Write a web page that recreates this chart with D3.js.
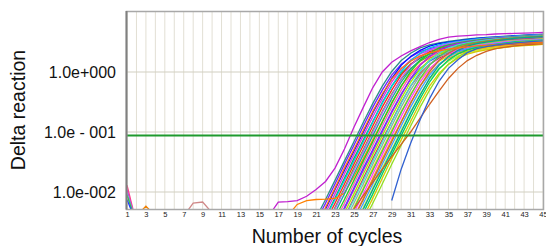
<!DOCTYPE html>
<html>
<head>
<meta charset="utf-8">
<script src="https://cdn.jsdelivr.net/npm/d3@7"></script>
<style>
body { margin: 0; background: #fff; }
text { font-family: "Liberation Sans", Arial, sans-serif; }
</style>
</head>
<body>
<svg id="chart" width="546" height="246"></svg>
<script>
// tick labels
let xTickLabels = [1, 3, 5, 7, 9, 11, 13, 15, 17, 19, 21, 23, 25, 27, 29, 31, 33, 35, 37, 39, 41, 43, 45];
let yTickValues = [1, 0.1, 0.01];
let yTickLabels = ["1.0e+000", "1.0e - 001", "1.0e-002"];
let threshold = 0.0875;

// first cycle of each well's trace
let wellStart = [20, 20, 21, 21, 21, 21, 21, 21, 22, 18, 22, 22, 22, 22, 23, 23, 23, 23, 23, 23,
    24, 24, 24, 24, 24, 24, 25, 25, 25, 25, 20, 24, 29, 16];

// delta reaction per cycle, from wellStart on
let wellValues = [
    [0.0018, 0.0037, 0.0075, 0.0156, 0.033, 0.069, 0.145, 0.30, 0.58, 1.02, 1.55, 2.05, 2.52, 2.82, 3.06, 3.24, 3.39, 3.55, 3.68, 3.76, 3.85, 3.94, 4.04, 4.13, 4.2, 4.24],
    [0.0016, 0.0032, 0.0065, 0.0136, 0.029, 0.060, 0.126, 0.26, 0.50, 0.89, 1.35, 1.78, 2.19, 2.45, 2.66, 2.82, 2.95, 3.09, 3.2, 3.27, 3.35, 3.43, 3.51, 3.59, 3.65, 3.69],
    [0.0025, 0.0052, 0.011, 0.023, 0.048, 0.10, 0.21, 0.41, 0.78, 1.29, 1.82, 2.3, 2.69, 2.96, 3.16, 3.31, 3.47, 3.63, 3.73, 3.81, 3.9, 3.99, 4.08, 4.17, 4.22],
    [0.0022, 0.0045, 0.0093, 0.020, 0.042, 0.087, 0.18, 0.36, 0.68, 1.12, 1.58, 2.0, 2.34, 2.57, 2.75, 2.88, 3.02, 3.16, 3.24, 3.31, 3.39, 3.47, 3.55, 3.63, 3.67],
    [0.0019, 0.0038, 0.0079, 0.017, 0.036, 0.074, 0.15, 0.31, 0.58, 0.95, 1.34, 1.7, 1.99, 2.18, 2.34, 2.45, 2.57, 2.69, 2.75, 2.81, 2.88, 2.95, 3.02, 3.09, 3.12],
    [0.0018, 0.0037, 0.0075, 0.0156, 0.033, 0.069, 0.145, 0.30, 0.58, 1.02, 1.55, 2.05, 2.52, 2.82, 3.06, 3.24, 3.39, 3.55, 3.68, 3.76, 3.85, 3.94, 4.04, 4.13, 4.2],
    [0.0016, 0.0032, 0.0065, 0.0136, 0.029, 0.060, 0.126, 0.26, 0.50, 0.89, 1.35, 1.78, 2.19, 2.45, 2.66, 2.82, 2.95, 3.09, 3.2, 3.27, 3.35, 3.43, 3.51, 3.59, 3.65],
    [0.0014, 0.0027, 0.0055, 0.0116, 0.025, 0.051, 0.107, 0.22, 0.43, 0.76, 1.15, 1.51, 1.86, 2.08, 2.26, 2.4, 2.51, 2.63, 2.72, 2.78, 2.85, 2.92, 2.98, 3.05, 3.1],
    [0.0025, 0.0052, 0.011, 0.023, 0.048, 0.10, 0.21, 0.41, 0.78, 1.29, 1.82, 2.3, 2.69, 2.96, 3.16, 3.31, 3.47, 3.63, 3.73, 3.81, 3.9, 3.99, 4.08, 4.17],
    [0.004, 0.0062, 0.0072, 0.0075, 0.0076, 0.0078, 0.0095, 0.018, 0.036, 0.074, 0.15, 0.31, 0.58, 0.95, 1.34, 1.7, 1.99, 2.18, 2.34, 2.45, 2.57, 2.69, 2.75, 2.81, 2.88, 2.95, 3.02, 3.09],
    [0.0022, 0.0045, 0.0093, 0.020, 0.042, 0.087, 0.18, 0.36, 0.68, 1.12, 1.58, 2.0, 2.34, 2.57, 2.75, 2.88, 3.02, 3.16, 3.24, 3.31, 3.39, 3.47, 3.55, 3.63],
    [0.0016, 0.0032, 0.0065, 0.0136, 0.029, 0.060, 0.126, 0.26, 0.50, 0.89, 1.35, 1.78, 2.19, 2.45, 2.66, 2.82, 2.95, 3.09, 3.2, 3.27, 3.35, 3.43, 3.51, 3.59],
    [0.0018, 0.0037, 0.0075, 0.0156, 0.033, 0.069, 0.145, 0.30, 0.58, 1.02, 1.55, 2.05, 2.52, 2.82, 3.06, 3.24, 3.39, 3.55, 3.68, 3.76, 3.85, 3.94, 4.04, 4.13],
    [0.0014, 0.0027, 0.0055, 0.0116, 0.025, 0.051, 0.107, 0.22, 0.43, 0.76, 1.15, 1.51, 1.86, 2.08, 2.26, 2.4, 2.51, 2.63, 2.72, 2.78, 2.85, 2.92, 2.98, 3.05],
    [0.0022, 0.0045, 0.0093, 0.020, 0.042, 0.087, 0.18, 0.36, 0.68, 1.12, 1.58, 2.0, 2.34, 2.57, 2.75, 2.88, 3.02, 3.16, 3.24, 3.31, 3.39, 3.47, 3.55],
    [0.0019, 0.0038, 0.0079, 0.017, 0.036, 0.074, 0.15, 0.31, 0.58, 0.95, 1.34, 1.7, 1.99, 2.18, 2.34, 2.45, 2.57, 2.69, 2.75, 2.81, 2.88, 2.95, 3.02],
    [0.0025, 0.0052, 0.011, 0.023, 0.048, 0.10, 0.21, 0.41, 0.78, 1.29, 1.82, 2.3, 2.69, 2.96, 3.16, 3.31, 3.47, 3.63, 3.73, 3.81, 3.9, 3.99, 4.08],
    [0.0016, 0.0032, 0.0065, 0.0136, 0.029, 0.060, 0.126, 0.26, 0.50, 0.89, 1.35, 1.78, 2.19, 2.45, 2.66, 2.82, 2.95, 3.09, 3.2, 3.27, 3.35, 3.43, 3.51],
    [0.0014, 0.0027, 0.0055, 0.0116, 0.025, 0.051, 0.107, 0.22, 0.43, 0.76, 1.15, 1.51, 1.86, 2.08, 2.26, 2.4, 2.51, 2.63, 2.72, 2.78, 2.85, 2.92, 2.98],
    [0.0018, 0.0037, 0.0075, 0.0156, 0.033, 0.069, 0.145, 0.30, 0.58, 1.02, 1.55, 2.05, 2.52, 2.82, 3.06, 3.24, 3.39, 3.55, 3.68, 3.76, 3.85, 3.94, 4.04],
    [0.0019, 0.0038, 0.0079, 0.017, 0.036, 0.074, 0.15, 0.31, 0.58, 0.95, 1.34, 1.7, 1.99, 2.18, 2.34, 2.45, 2.57, 2.69, 2.75, 2.81, 2.88, 2.95],
    [0.0025, 0.0052, 0.011, 0.023, 0.048, 0.10, 0.21, 0.41, 0.78, 1.29, 1.82, 2.3, 2.69, 2.96, 3.16, 3.31, 3.47, 3.63, 3.73, 3.81, 3.9, 3.99],
    [0.0022, 0.0045, 0.0093, 0.020, 0.042, 0.087, 0.18, 0.36, 0.68, 1.12, 1.58, 2.0, 2.34, 2.57, 2.75, 2.88, 3.02, 3.16, 3.24, 3.31, 3.39, 3.47],
    [0.0016, 0.0032, 0.0065, 0.0136, 0.029, 0.060, 0.126, 0.26, 0.50, 0.89, 1.35, 1.78, 2.19, 2.45, 2.66, 2.82, 2.95, 3.09, 3.2, 3.27, 3.35, 3.43],
    [0.0014, 0.0027, 0.0055, 0.0116, 0.025, 0.051, 0.107, 0.22, 0.43, 0.76, 1.15, 1.51, 1.86, 2.08, 2.26, 2.4, 2.51, 2.63, 2.72, 2.78, 2.85, 2.92],
    [0.0018, 0.0037, 0.0075, 0.0156, 0.033, 0.069, 0.145, 0.30, 0.58, 1.02, 1.55, 2.05, 2.52, 2.82, 3.06, 3.24, 3.39, 3.55, 3.68, 3.76, 3.85, 3.94],
    [0.0022, 0.0045, 0.0093, 0.020, 0.042, 0.087, 0.18, 0.36, 0.68, 1.12, 1.58, 2.0, 2.34, 2.57, 2.75, 2.88, 3.02, 3.16, 3.24, 3.31, 3.39],
    [0.0019, 0.0038, 0.0079, 0.017, 0.036, 0.074, 0.15, 0.31, 0.58, 0.95, 1.34, 1.7, 1.99, 2.18, 2.34, 2.45, 2.57, 2.69, 2.75, 2.81, 2.88],
    [0.0016, 0.0032, 0.0065, 0.0136, 0.029, 0.060, 0.126, 0.26, 0.50, 0.89, 1.35, 1.78, 2.19, 2.45, 2.66, 2.82, 2.95, 3.09, 3.2, 3.27, 3.35],
    [0.0025, 0.0052, 0.011, 0.023, 0.048, 0.10, 0.21, 0.41, 0.78, 1.29, 1.82, 2.3, 2.69, 2.96, 3.16, 3.31, 3.47, 3.63, 3.73, 3.81, 3.9],
    [0.0014, 0.0027, 0.0055, 0.0116, 0.025, 0.051, 0.107, 0.22, 0.43, 0.76, 1.15, 1.51, 1.86, 2.08, 2.26, 2.4, 2.51, 2.63, 2.72, 2.78, 2.85, 2.92, 2.98, 3.05, 3.1, 3.14],
    [0.0035, 0.0052, 0.0088, 0.0145, 0.024, 0.039, 0.062, 0.10, 0.17, 0.29, 0.48, 0.78, 1.15, 1.55, 1.9, 2.2, 2.45, 2.6, 2.72, 2.82, 2.9, 2.95],
    [0.0072, 0.024, 0.065, 0.16, 0.36, 0.7, 1.15, 1.6, 2.1, 2.45, 2.65, 2.8, 2.95, 3.05, 3.15, 3.25, 3.3],
    [0.004, 0.0068, 0.0069, 0.0072, 0.0085, 0.011, 0.015, 0.025, 0.052, 0.12, 0.26, 0.55, 1.0, 1.45, 1.85, 2.25, 2.65, 3.1, 3.5, 3.8, 3.95, 4.05, 4.15, 4.2, 4.3, 4.35, 4.4, 4.45, 4.5, 4.55]
];

// short traces near the baseline
let blipStart = [1, 1, 1, 1, 1, 2, 7];
let blipValues = [
    [0.013, 0.003],
    [0.011, 0.003],
    [0.0095, 0.003],
    [0.0088, 0.003],
    [0.0075, 0.003],
    [0.004, 0.0058, 0.004],
    [0.004, 0.0065, 0.0068, 0.0045]
];

let wellColors = ["#2e8b8b", "#7020ff", "#0010ff", "#e030e0", "#10b040", "#00c8e8", "#ff2020", "#80a010",
    "#b060ff", "#ff8000", "#20a0a0", "#ff60b0", "#20d020", "#3050ff", "#a0f000", "#e03838", "#a020f0",
    "#80b0b0", "#e8e000", "#40e0d0", "#ff9a20", "#50c050", "#ff40ff", "#40a0ff", "#c0f040", "#c07030",
    "#00d060", "#d8c800", "#90e020", "#00a890", "#ff7010", "#d06020", "#3060d0", "#c020d0"];
let blipColors = ["#ff4080", "#d040d0", "#40c0e0", "#40c040", "#2040ff", "#f08000", "#d08888"];

let plot = { left: 127, right: 543, top: 12, bottom: 209 };

let svg = d3.select("#chart");
svg.append("rect").attr("width", 546).attr("height", 246).attr("fill", "#fff");

let xScale = d3.scaleLinear().domain([1, 45]).range([plot.left, plot.right]);
let yScale = d3.scaleLog().domain([0.01, 1]).range([192, 72]);

svg.append("clipPath").attr("id", "plotClip")
    .append("rect")
    .attr("x", plot.left).attr("y", plot.top)
    .attr("width", plot.right - plot.left).attr("height", plot.bottom - plot.top);

// grid
svg.append("g").selectAll("line")
    .data(d3.range(1, 46))
    .join("line")
    .attr("x1", d => xScale(d)).attr("x2", d => xScale(d))
    .attr("y1", plot.top).attr("y2", plot.bottom)
    .attr("stroke", "#e2dfd4").attr("stroke-width", 1);

svg.append("g").selectAll("line")
    .data(yTickValues)
    .join("line")
    .attr("x1", plot.left).attr("x2", plot.right)
    .attr("y1", d => yScale(d)).attr("y2", d => yScale(d))
    .attr("stroke", "#d2cfc2").attr("stroke-width", 1.2);

// curves
let lineGenerator = d3.line()
    .x(d => xScale(d.c))
    .y(d => yScale(d.v));

let toPoints = (start, values) => values.map((v, i) => ({ c: start + i, v: v }));

let body = svg.append("g").attr("clip-path", "url(#plotClip)");

body.selectAll("path.blip")
    .data(blipValues.map((vals, i) => toPoints(blipStart[i], vals)))
    .join("path")
    .attr("class", "blip")
    .attr("d", lineGenerator)
    .attr("fill", "none")
    .attr("stroke", (d, i) => blipColors[i])
    .attr("stroke-width", 1.3);

body.selectAll("path.well")
    .data(wellValues.map((vals, i) => toPoints(wellStart[i], vals)))
    .join("path")
    .attr("class", "well")
    .attr("d", lineGenerator)
    .attr("fill", "none")
    .attr("stroke", (d, i) => wellColors[i])
    .attr("stroke-width", 1.3);

// threshold
svg.append("line")
    .attr("x1", plot.left).attr("x2", plot.right)
    .attr("y1", yScale(threshold)).attr("y2", yScale(threshold))
    .attr("stroke", "#1f9a2e").attr("stroke-width", 2.2);

// frame
svg.append("rect")
    .attr("x", plot.left - 0.5).attr("y", plot.top - 0.5)
    .attr("width", plot.right - plot.left + 1).attr("height", plot.bottom - plot.top + 1)
    .attr("fill", "none").attr("stroke", "#a8a8a8").attr("stroke-width", 1.5);
svg.append("line")
    .attr("x1", plot.left - 0.5).attr("x2", plot.left - 0.5)
    .attr("y1", plot.top - 1).attr("y2", plot.bottom + 0.5)
    .attr("stroke", "#808080").attr("stroke-width", 2);

// axes
let xAxis = svg.append("g")
    .attr("transform", `translate(0,${plot.bottom})`)
    .call(d3.axisBottom(xScale).tickValues(xTickLabels).tickSize(0).tickPadding(3));
xAxis.select(".domain").remove();
xAxis.selectAll("text").attr("font-size", "7.5px").attr("fill", "#222")
    .style("font-family", "'Liberation Sans', Arial, sans-serif");

let yAxis = svg.append("g")
    .attr("transform", `translate(${plot.left - 1},0)`)
    .call(d3.axisLeft(yScale).tickValues(yTickValues)
        .tickFormat((d, i) => yTickLabels[i]).tickSize(0).tickPadding(10));
yAxis.select(".domain").remove();
yAxis.selectAll("text").attr("font-size", "16px").attr("fill", "#111")
    .style("font-family", "'Liberation Sans', Arial, sans-serif");

// titles
svg.append("text")
    .attr("transform", "translate(25,110) rotate(-90)")
    .attr("text-anchor", "middle")
    .attr("font-size", "19.5px").attr("fill", "#111")
    .text("Delta reaction");

svg.append("text")
    .attr("x", 327).attr("y", 243)
    .attr("text-anchor", "middle")
    .attr("font-size", "19.5px").attr("fill", "#111")
    .text("Number of cycles");
</script>
</body>
</html>
